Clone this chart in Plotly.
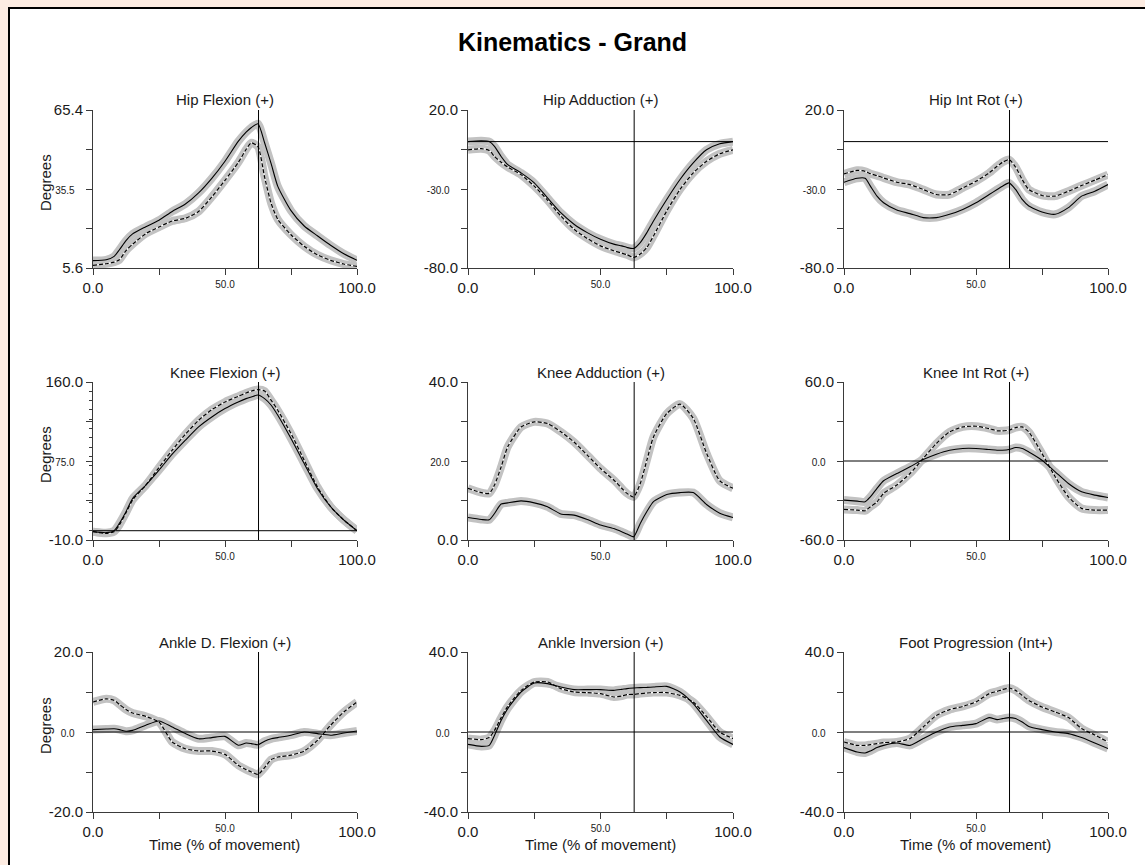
import plotly.graph_objects as go
from plotly.subplots import make_subplots

W, H = 1145, 865

# ---------------- data ----------------
T = [0, 5, 8, 10, 12.5, 15, 20, 25, 30, 35, 40, 45, 50, 55, 58, 60, 62.5,
     65, 67.5, 70, 75, 80, 85, 90, 95, 100]
EVENT_PCT = 62.7

hip_flex_solid = [8.4, 8.7, 10.0, 12.5, 16.0, 18.5, 21.2, 23.7, 27.0, 29.8, 34.0, 39.5, 46.0,
                  53.5, 57.0, 58.8, 60.2, 53.0, 45.0, 36.5, 27.3, 21.5, 17.8, 14.2, 11.0, 8.5]
hip_flex_dashed = [6.6, 7.2, 7.8, 8.7, 12.2, 14.6, 18.6, 21.1, 23.4, 24.4, 27.0, 32.5, 38.8,
                   45.5, 50.5, 53.0, 51.5, 40.0, 30.0, 24.0, 18.2, 13.8, 10.6, 8.5, 7.1, 6.2]

hip_add_solid = [0, 0.5, 0, -3, -9.4, -14.6, -19.8, -26.1, -35.6, -45, -52.3, -57.6, -61.8,
                 -64.9, -66, -67, -67.6, -63.9, -57.6, -50.2, -36.6, -24, -13.5, -5.2, -1.4, 0]
hip_add_dashed = [-5.2, -4.5, -5.6, -9.4, -13.1, -16.1, -20.9, -28.2, -37, -47.1, -55.5, -61.3, -66,
                  -69.1, -70.6, -71.6, -73.3, -71.2, -67, -59.7, -43.9, -30.3, -19.8, -12.5, -7.7, -5.2]

hip_rot_solid = [-25.7, -23.2, -23.2, -28.2, -34.5, -38.7, -43.3, -45.6, -48.1, -48.1, -46, -42.9, -38.7,
                 -33.5, -30.3, -28.2, -26.1, -30.3, -36.6, -40.8, -44.6, -46, -41.8, -34.5, -31.4, -27.2]
hip_rot_dashed = [-20.5, -18.2, -18.8, -20.3, -21.5, -23, -25.7, -27.2, -30.3, -33.5, -33.5, -29.3, -25.1,
                  -19.8, -15.6, -13.1, -11.4, -16.1, -24, -30.3, -34.1, -34.5, -31.4, -27.8, -24.4, -20.9]

knee_flex_solid = [-1, -2.1, 0, 7.9, 20.4, 34.7, 49, 65.2, 82.3, 97.4, 111.7, 122.4, 131.4,
                   138.5, 142.1, 143.9, 146, 142.1, 135, 124.2, 99.2, 72.3, 45.5, 25.8, 11.5, 0]
knee_flex_dashed = [-1, -2.8, -1, 6.1, 19.3, 33, 49, 68, 86.6, 103.8, 118.8, 130.3, 138.5,
                    144.6, 148.2, 150.3, 151.8, 150.3, 140.3, 129.6, 104.5, 75.9, 47.2, 25.8, 11.5, 0]

knee_add_solid = [5.7, 5.2, 5.1, 6.7, 9.1, 9.4, 9.9, 9.4, 8.4, 6.6, 6.3, 5.2, 3.8,
                  2.9, 2.1, 1.5, 0.8, 4.2, 7.2, 9.7, 11.5, 12, 12, 9.0, 6.8, 5.7]
knee_add_dashed = [13.1, 12, 11.8, 13.9, 18.5, 23.6, 28.6, 29.9, 29.5, 27.4, 24.8, 21.5, 18.1,
                   15.2, 13.1, 11.8, 10.9, 14.3, 20.2, 26.1, 32, 34.4, 30.8, 22, 15, 13.1]

knee_rot_solid = [-29.7, -30.5, -31, -27.2, -20.8, -15, -9.5, -4.4, 1.1, 5.2, 8.2, 9.5, 9.5,
                  8.7, 8.2, 8.2, 8.7, 10.2, 9.5, 6.9, 0.6, -8.2, -17.1, -23.4, -25.9, -27.7]
knee_rot_dashed = [-36.8, -37.3, -37.8, -34.7, -31, -24.6, -18.3, -9.5, 1.9, 13.3, 22.1, 25.9, 26.4,
                   24.6, 22.9, 22.9, 23.4, 25.4, 25.9, 22.1, 5.7, -12, -27.2, -36, -37.3, -37.3]

ankle_df_solid = [0.6, 0.75, 0.8, 0.6, 0.2, 0.4, 1.7, 2.75, 1.25, -0.4, -1.7, -1.4, -1.1,
                  -3.3, -2.75, -2.9, -3.2, -2.3, -1.7, -1.4, -0.8, 0, -0.4, -0.8, -0.25, 0.25]
ankle_df_dashed = [7.5, 8.3, 7.9, 6.9, 5.6, 4.75, 3.9, 2.5, -2.5, -4.2, -4.75, -4.75, -5.6,
                   -8.3, -9.4, -10, -10.6, -8.9, -6.9, -6.25, -5.8, -4.75, -2.1, 1.7, 5, 7.5]

ankle_inv_solid = [-6.2, -7.2, -6.7, -1.7, 5.8, 11.7, 20, 24.5, 24.2, 22.5, 21.2, 21.2, 21.2,
                   20.8, 21.3, 21.7, 22, 22.2, 22.3, 22.5, 22.8, 20, 14.2, 5.8, -2.5, -6.2]
ankle_inv_dashed = [-3.3, -3.8, -2.8, 0.8, 7.2, 12.8, 20.8, 25, 25, 21.7, 20, 19.7, 19.2,
                    17.5, 18, 18.7, 18.8, 19.2, 19.5, 19.7, 19.7, 18.3, 15, 7.8, 0, -3.3]

foot_prog_solid = [-7.8, -10, -10.5, -9.5, -7.8, -6.7, -5.5, -6.7, -3.3, 0, 2.5, 3.3, 4.2,
                   7.2, 6.2, 6.7, 7.2, 6.7, 5, 2.8, 1.2, 0, -0.8, -2.8, -5.5, -8.3]
foot_prog_dashed = [-5, -6.7, -6.7, -6.3, -5.8, -5.3, -5, -3.3, 2.5, 8.3, 11.2, 12.8, 15,
                    19.2, 20.3, 21.2, 22, 20.8, 18.3, 15.8, 12.5, 10, 7.2, 1.7, -1.5, -5]

panel_titles = ["Hip Flexion (+)", "Hip Adduction (+)", "Hip Int Rot (+)",
                "Knee Flexion (+)", "Knee Adduction (+)", "Knee Int Rot (+)",
                "Ankle D. Flexion (+)", "Ankle Inversion (+)", "Foot Progression (Int+)"]
y_ranges = [(5.6, 65.4), (-80, 20), (-80, 20),
            (-10, 160), (0, 40), (-60, 60),
            (-20, 20), (-40, 40), (-40, 40)]
solid_series = [hip_flex_solid, hip_add_solid, hip_rot_solid,
                knee_flex_solid, knee_add_solid, knee_rot_solid,
                ankle_df_solid, ankle_inv_solid, foot_prog_solid]
dashed_series = [hip_flex_dashed, hip_add_dashed, hip_rot_dashed,
                 knee_flex_dashed, knee_add_dashed, knee_rot_dashed,
                 ankle_df_dashed, ankle_inv_dashed, foot_prog_dashed]
x_tick_vals = [0, 25, 50, 75, 100]
x_tick_labels = ["0.0", "", "50.0", "", "100.0"]
y_title = "Degrees"
x_title = "Time (% of movement)"
main_title = "Kinematics - Grand"

# ---------------- layout/style ----------------
FONT = "Liberation Sans, Arial, sans-serif"
BAND = "#c2c2c2"
AXIS_COLOR = "#3a3a3a"
TEXT_COLOR = "#1a1a1a"
SMALL = 10
NBSP = "\u00a0"
col_px = [(93, 357), (468, 733), (844, 1108)]
row_px = [(110, 268), (382, 540), (652, 812)]


def small(s, pad=""):
    return f'<span style="font-size:{SMALL}px">{s}{pad}</span>'


def small_x(s):
    return f'<span style="font-size:{SMALL}px;baseline-shift:5px">{s}</span>'


x_tick_text = [small_x(s) if i == 2 else s for i, s in enumerate(x_tick_labels)]

fig = make_subplots(rows=3, cols=3)

for k in range(9):
    r, c = divmod(k, 3)
    for ys in (dashed_series[k], solid_series[k]):
        fig.add_trace(go.Scatter(x=T, y=ys, mode="lines",
                                 line=dict(color=BAND, width=8, shape="spline", smoothing=0.6),
                                 hoverinfo="skip", showlegend=False), row=r + 1, col=c + 1)
    fig.add_trace(go.Scatter(x=T, y=dashed_series[k], mode="lines",
                             line=dict(color="white", width=1.2, shape="spline", smoothing=0.6),
                             hoverinfo="skip", showlegend=False), row=r + 1, col=c + 1)
    fig.add_trace(go.Scatter(x=T, y=dashed_series[k], mode="lines",
                             line=dict(color="black", width=1.2, dash="4px,2px",
                                       shape="spline", smoothing=0.6),
                             showlegend=False), row=r + 1, col=c + 1)
    fig.add_trace(go.Scatter(x=T, y=solid_series[k], mode="lines",
                             line=dict(color="black", width=1.1, shape="spline", smoothing=0.6),
                             showlegend=False), row=r + 1, col=c + 1)

    lo, hi = y_ranges[k]
    q = (hi - lo) / 4
    yvals = [lo, lo + q, lo + 2 * q, lo + 3 * q, hi]
    ytext = [f"{lo:.1f}", "", small(f"{lo + 2 * q:.1f}", NBSP * 3), "", f"{hi:.1f}"]

    x0, x1 = col_px[c]
    y0, y1 = row_px[r]
    sfx = "" if k == 0 else str(k + 1)
    common = dict(ticks="outside", ticklen=6, tickcolor=AXIS_COLOR, showline=True,
                  linecolor=AXIS_COLOR, linewidth=1, showgrid=False, zeroline=False,
                  tickfont=dict(size=15, color=TEXT_COLOR), fixedrange=True,
                  automargin=False, tickmode="array")
    xa = dict(domain=[x0 / W, x1 / W], range=[0, 100],
              tickvals=x_tick_vals, ticktext=x_tick_text, **common)
    ya = dict(domain=[1 - y1 / H, 1 - y0 / H], range=[lo, hi],
              tickvals=yvals, ticktext=ytext, **common)
    if k == 3:
        ya["minor"] = dict(tickmode="linear", tick0=lo, dtick=10, ticks="outside",
                           ticklen=3, tickcolor=AXIS_COLOR)
    fig.update_layout({"xaxis" + sfx: xa, "yaxis" + sfx: ya})

    # event line and zero line
    fig.add_vline(x=EVENT_PCT, line=dict(color="black", width=1), row=r + 1, col=c + 1)
    if lo < 0 < hi:
        fig.add_hline(y=0, line=dict(color="black", width=1), row=r + 1, col=c + 1)

    fig.add_annotation(text=panel_titles[k], xref="paper", yref="paper",
                       x=(x0 + x1) / 2 / W, y=1 - (y0 - 10) / H,
                       xanchor="center", yanchor="middle", showarrow=False,
                       font=dict(size=15, color=TEXT_COLOR, family=FONT))
    # axis titles (fixed positions like the original report)
    if c == 0:
        fig.add_annotation(text=y_title, xref="paper", yref="paper",
                           x=45 / W, y=1 - ((y0 + y1) / 2 - 6) / H, textangle=-90,
                           xanchor="center", yanchor="middle", showarrow=False,
                           font=dict(size=15, color=TEXT_COLOR, family=FONT))
    if r == 2:
        fig.add_annotation(text=x_title, xref="paper", yref="paper",
                           x=(x0 + x1) / 2 / W, y=1 - 844 / H,
                           xanchor="center", yanchor="middle", showarrow=False,
                           font=dict(size=15, color=TEXT_COLOR, family=FONT))

# frame
fig.add_shape(type="rect", xref="paper", yref="paper",
              x0=9 / W, x1=1.05, y0=-0.05, y1=1 - 8 / H,
              line=dict(color="black", width=2), fillcolor="white", layer="below")

fig.update_layout(
    width=W, height=H,
    margin=dict(l=0, r=0, t=0, b=0),
    paper_bgcolor="#fdece2",
    plot_bgcolor="white",
    font=dict(family=FONT, color=TEXT_COLOR),
    showlegend=False,
    title=dict(text=f"<b>{main_title}</b>", x=0.5, xanchor="center",
               y=1 - 42 / H, yanchor="middle", automargin=False,
               font=dict(size=25, color="black", family=FONT)),
)

fig.write_html("out.html")
